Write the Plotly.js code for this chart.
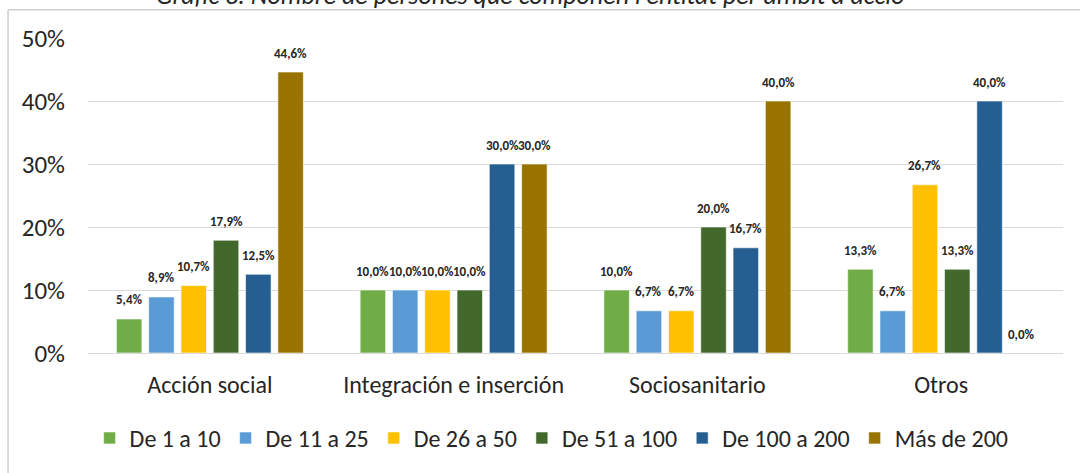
<!DOCTYPE html>
<html>
<head>
<meta charset="utf-8">
<script src="https://cdn.plot.ly/plotly-3.0.1.min.js"></script>
<style>html,body{margin:0;padding:0;background:#fff;}#chart{width:1080px;height:473px;}</style>
</head>
<body>
<div id="chart"></div>
<script>
const categories = ['Acción social', 'Integración e inserción', 'Sociosanitario', 'Otros'];
const seriesNames = ['De 1 a 10', 'De 11 a 25', 'De 26 a 50', 'De 51 a 100', 'De 100 a 200', 'Más de 200'];
const de1a10 = [5.4, 10.0, 10.0, 13.3];
const de11a25 = [8.9, 10.0, 6.7, 6.7];
const de26a50 = [10.7, 10.0, 6.7, 26.7];
const de51a100 = [17.9, 10.0, 20.0, 13.3];
const de100a200 = [12.5, 30.0, 16.7, 40.0];
const mas200 = [44.6, 30.0, 40.0, 0.0];
const yTicks = [0, 10, 20, 30, 40, 50];
const titleText = "Gràfic 8. Nombre de persones que componen l'entitat per àmbit d'acció";

const seriesValues = [de1a10, de11a25, de26a50, de51a100, de100a200, mas200];
const colors = ['#70AD47', '#5B9BD5', '#FFC000', '#43682B', '#255E91', '#997300'];
const FONT = 'Carlito, Lato, "Liberation Sans", sans-serif';

// layout geometry (style)
const W = 1080, H = 473;
const M = {l: 88, r: 17, t: 37.5, b: 118};
const BARGAP = 0.205;
const plotW = W - M.l - M.r;
const slotPx = plotW / categories.length * (1 - BARGAP) / seriesValues.length;

const traces = seriesValues.map((vals, i) => ({
  type: 'bar',
  name: seriesNames[i],
  x: categories,
  y: vals,
  marker: {color: colors[i], line: {color: 'rgba(255,255,255,0.6)', width: 1}},
  hoverinfo: 'skip'
}));

const labelAnnotations = [];
seriesValues.forEach((vals, i) => {
  vals.forEach((v, j) => {
    labelAnnotations.push({
      x: categories[j], y: v, xref: 'x', yref: 'y',
      text: v.toFixed(1).replace('.', ',') + '%',
      showarrow: false,
      xanchor: 'center', yanchor: 'middle',
      xshift: (i - (seriesValues.length - 1) / 2) * slotPx,
      yshift: 19,
      font: {family: FONT, size: 13, color: '#262626', weight: 'bold'}
    });
  });
});

const layout = {
  width: W,
  height: H,
  separators: ',.',
  paper_bgcolor: '#ffffff',
  plot_bgcolor: '#ffffff',
  font: {family: FONT, color: '#262626'},
  margin: {l: M.l, r: M.r, t: M.t, b: M.b, pad: 0},
  barmode: 'group',
  bargap: BARGAP,
  bargroupgap: 0.21,
  showlegend: true,
  legend: {
    orientation: 'h',
    x: 0.4755, xanchor: 'center',
    y: -0.271, yanchor: 'middle',
    font: {family: FONT, size: 24, color: '#262626'},
    itemclick: false
  },
  xaxis: {
    type: 'category',
    showgrid: false,
    showline: true,
    linecolor: '#D9D9D9',
    linewidth: 1,
    ticks: '',
    ticklabelstandoff: 10,
    tickfont: {family: FONT, size: 24, color: '#262626'},
    fixedrange: true
  },
  yaxis: {
    range: [0, 50],
    tickvals: yTicks,
    ticktext: yTicks.map(v => v + '%'),
    showgrid: true,
    gridcolor: '#D9D9D9',
    gridwidth: 1,
    zeroline: false,
    showline: false,
    ticks: '',
    ticklabelstandoff: 22,
    tickfont: {family: FONT, size: 25, color: '#262626'},
    fixedrange: true
  },
  shapes: [
    {type: 'line', xref: 'paper', yref: 'paper', x0: -0.082, x1: 1.05, y0: 1.0898, y1: 1.0898,
     line: {color: '#D0D0D0', width: 1.5}},
    {type: 'line', xref: 'paper', yref: 'paper', x0: -0.082, x1: -0.082, y0: 1.0898, y1: -0.45,
     line: {color: '#D0D0D0', width: 1.5}}
  ],
  annotations: [
    {text: '<i>' + titleText + '</i>', xref: 'paper', yref: 'paper', x: 0.454, y: 1.137,
     xanchor: 'center', yanchor: 'middle', showarrow: false,
     font: {family: FONT, size: 26, color: '#262626'}}
  ].concat(labelAnnotations)
};

Plotly.newPlot('chart', traces, layout, {displayModeBar: false, staticPlot: true});
</script>
</body>
</html>
